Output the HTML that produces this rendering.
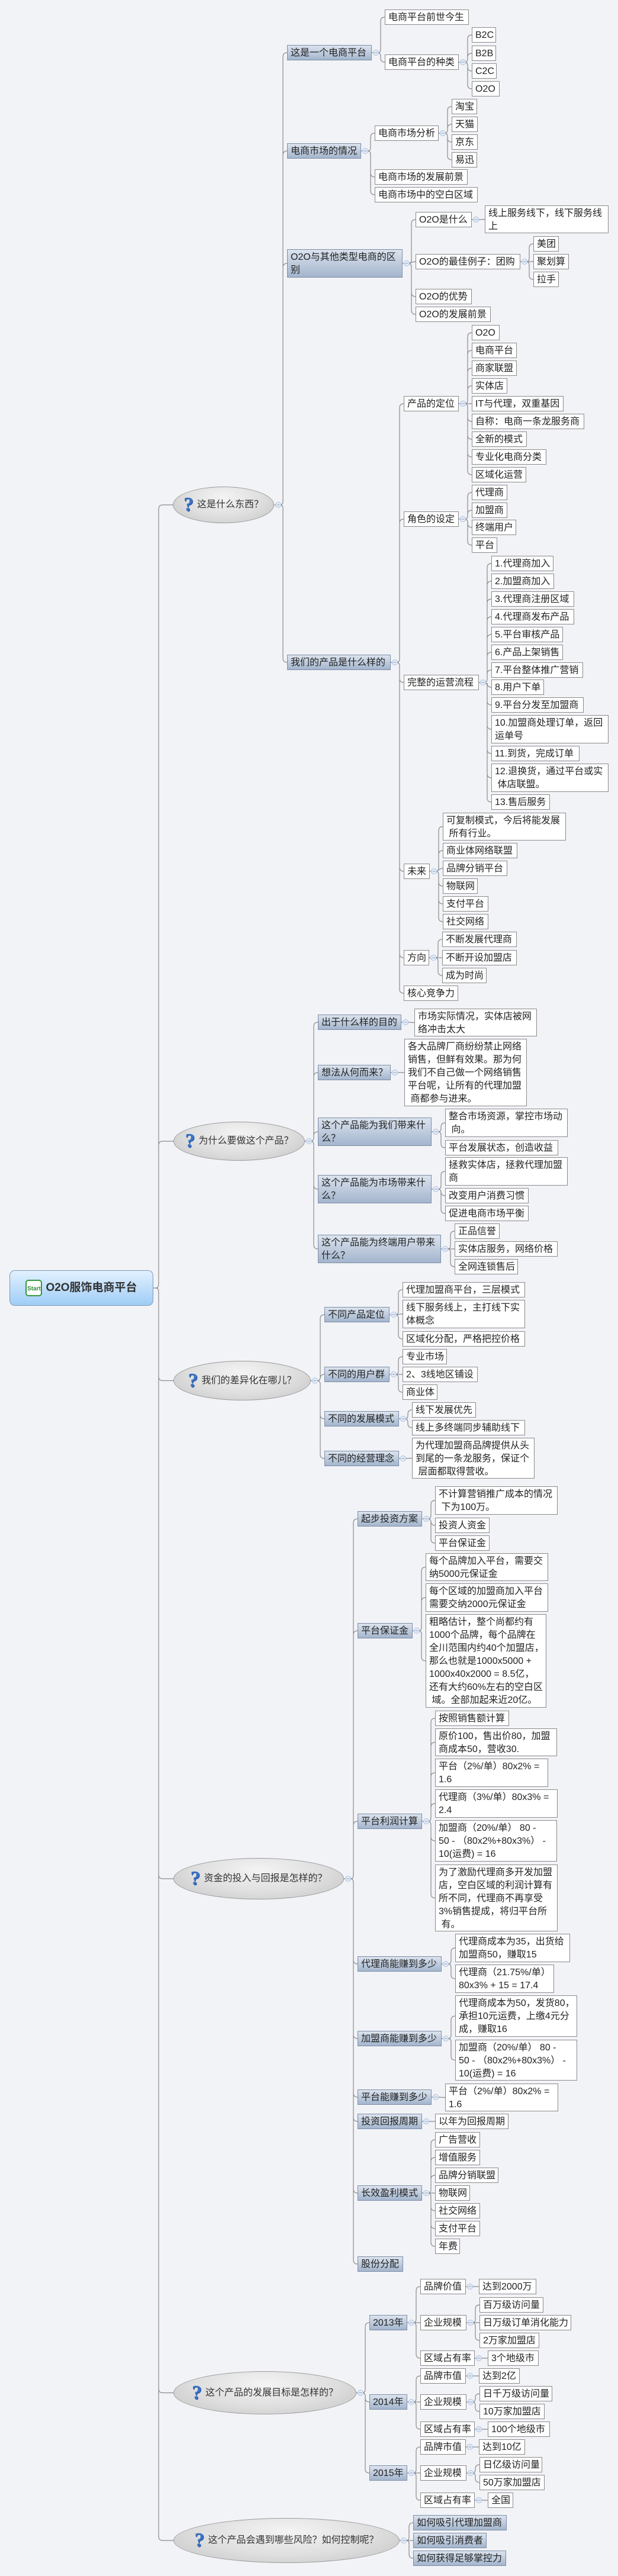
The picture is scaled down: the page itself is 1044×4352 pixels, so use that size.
<!DOCTYPE html>
<html><head><meta charset="utf-8">
<style>
html,body{margin:0;padding:0;}
body{width:1044px;height:4352px;background:#f2f3f7;position:relative;overflow:hidden;font-family:"Liberation Sans","Noto Sans CJK SC",sans-serif;}
.n{position:absolute;box-sizing:border-box;font-size:16px;line-height:22px;padding:2px 5px;white-space:nowrap;color:#222;overflow:hidden;}
.l{background:#fff;border:1px solid #8a8a8a;}
.b{background:linear-gradient(#dbe3ee,#a3b5cd);border:1px solid #7d8ea6;}
.e{background:radial-gradient(ellipse at 50% 30%,#f4f4f4 0%,#dedede 55%,#c4c4c4 100%);border:1px solid #9a9a9a;border-radius:50%;display:flex;align-items:center;justify-content:center;padding:0;color:#333;}
.e i{font-style:normal;font-weight:bold;font-size:34px;color:#3b73c6;margin-right:6px;font-family:"Liberation Serif",serif;text-shadow:1px 1px 0 #1d4f9a;}
#root{left:16px;top:2146px;width:243px;height:60px;border:1px solid #7c98b6;border-radius:9px;background:linear-gradient(#e2f1ff,#9fcdf6);display:flex;align-items:center;justify-content:center;font-weight:bold;font-size:19px;color:#333;padding:0;}
#root span.s{display:inline-block;width:28px;height:28px;border:2px solid #2e9a3a;border-radius:5px;background:#fff;color:#2e8a3a;font-size:10px;line-height:28px;text-align:center;margin-right:6px;box-sizing:border-box;}
svg{position:absolute;left:0;top:0;}
</style></head><body>
<svg id="lines" width="1044" height="4352"></svg>

<div id="root" class="n"><span class="s">Start</span>O2O服饰电商平台</div>

<div id="q1" class="n e c-root" style="left:292px;top:822px;width:171px;height:62px"><i>?</i>这是什么东西？</div>
<div id="q2" class="n e c-root" style="left:293px;top:1895px;width:222px;height:66px"><i>?</i>为什么要做这个产品？</div>
<div id="q3" class="n e c-root" style="left:293px;top:2299px;width:232px;height:67px"><i>?</i>我们的差异化在哪儿？</div>
<div id="q4" class="n e c-root" style="left:293px;top:3139px;width:288px;height:70px"><i>?</i>资金的投入与回报是怎样的？</div>
<div id="q5" class="n e c-root" style="left:293px;top:4006px;width:309px;height:73px"><i>?</i>这个产品的发展目标是怎样的？</div>
<div id="q6" class="n e c-root" style="left:293px;top:4254px;width:382px;height:76px"><i>?</i>这个产品会遇到哪些风险？如何控制呢？</div>

<!-- q1 -->
<div id="A1" class="n b c-q1" style="left:485px;top:76px;width:143px;height:26px">这是一个电商平台</div>
<div id="A2" class="n b c-q1" style="left:485px;top:242px;width:125px;height:26px">电商市场的情况</div>
<div id="A3" class="n b c-q1" style="left:485px;top:421px;width:195px;height:48px">O2O与其他类型电商的区<br>别</div>
<div id="A4" class="n b c-q1" style="left:485px;top:1106px;width:175px;height:26px">我们的产品是什么样的</div>

<div class="n l c-A1" style="left:650px;top:16px;width:142px;height:26px">电商平台前世今生</div>
<div id="A12" class="n l c-A1" style="left:650px;top:92px;width:125px;height:26px">电商平台的种类</div>
<div class="n l c-A12" style="left:797px;top:46px;width:41px;height:26px">B2C</div>
<div class="n l c-A12" style="left:797px;top:77px;width:41px;height:26px">B2B</div>
<div class="n l c-A12" style="left:797px;top:107px;width:42px;height:26px">C2C</div>
<div class="n l c-A12" style="left:797px;top:137px;width:47px;height:26px">O2O</div>

<div id="A21" class="n l c-A2" style="left:633px;top:212px;width:108px;height:26px">电商市场分析</div>
<div class="n l c-A2" style="left:633px;top:286px;width:157px;height:26px">电商市场的发展前景</div>
<div class="n l c-A2" style="left:633px;top:316px;width:174px;height:26px">电商市场中的空白区域</div>
<div class="n l c-A21" style="left:763px;top:167px;width:43px;height:26px">淘宝</div>
<div class="n l c-A21" style="left:763px;top:197px;width:44px;height:26px">天猫</div>
<div class="n l c-A21" style="left:763px;top:227px;width:44px;height:26px">京东</div>
<div class="n l c-A21" style="left:763px;top:257px;width:43px;height:26px">易迅</div>

<div id="A31" class="n l c-A3" style="left:702px;top:358px;width:95px;height:26px">O2O是什么</div>
<div id="A32" class="n l c-A3" style="left:702px;top:429px;width:177px;height:26px">O2O的最佳例子：团购</div>
<div class="n l c-A3" style="left:702px;top:488px;width:95px;height:26px">O2O的优势</div>
<div class="n l c-A3" style="left:702px;top:518px;width:127px;height:26px">O2O的发展前景</div>
<div class="n l c-A31" style="left:819px;top:347px;width:209px;height:47px">线上服务线下，线下服务线<br>上</div>
<div class="n l c-A32" style="left:901px;top:399px;width:43px;height:26px">美团</div>
<div class="n l c-A32" style="left:901px;top:429px;width:60px;height:26px">聚划算</div>
<div class="n l c-A32" style="left:901px;top:459px;width:43px;height:26px">拉手</div>

<div id="A41" class="n l c-A4" style="left:682px;top:669px;width:93px;height:26px">产品的定位</div>
<div id="A42" class="n l c-A4" style="left:682px;top:864px;width:93px;height:26px">角色的设定</div>
<div id="A43" class="n l c-A4" style="left:682px;top:1140px;width:127px;height:26px">完整的运营流程</div>
<div id="A44" class="n l c-A4" style="left:682px;top:1459px;width:44px;height:26px">未来</div>
<div id="A45" class="n l c-A4" style="left:682px;top:1605px;width:43px;height:26px">方向</div>
<div class="n l c-A4" style="left:682px;top:1665px;width:92px;height:26px">核心竞争力</div>

<div class="n l c-A41" style="left:797px;top:549px;width:47px;height:26px">O2O</div>
<div class="n l c-A41" style="left:797px;top:579px;width:76px;height:26px">电商平台</div>
<div class="n l c-A41" style="left:797px;top:609px;width:76px;height:26px">商家联盟</div>
<div class="n l c-A41" style="left:797px;top:639px;width:60px;height:26px">实体店</div>
<div class="n l c-A41" style="left:797px;top:669px;width:155px;height:26px">IT与代理，双重基因</div>
<div class="n l c-A41" style="left:797px;top:699px;width:190px;height:26px">自称：电商一条龙服务商</div>
<div class="n l c-A41" style="left:797px;top:729px;width:93px;height:26px">全新的模式</div>
<div class="n l c-A41" style="left:797px;top:759px;width:126px;height:26px">专业化电商分类</div>
<div class="n l c-A41" style="left:797px;top:789px;width:92px;height:26px">区域化运营</div>

<div class="n l c-A42" style="left:797px;top:819px;width:60px;height:26px">代理商</div>
<div class="n l c-A42" style="left:797px;top:849px;width:60px;height:26px">加盟商</div>
<div class="n l c-A42" style="left:797px;top:878px;width:75px;height:26px">终端用户</div>
<div class="n l c-A42" style="left:797px;top:908px;width:43px;height:26px">平台</div>

<div class="n l c-A43" style="left:830px;top:939px;width:105px;height:26px">1.代理商加入</div>
<div class="n l c-A43" style="left:830px;top:969px;width:106px;height:26px">2.加盟商加入</div>
<div class="n l c-A43" style="left:830px;top:999px;width:140px;height:26px">3.代理商注册区域</div>
<div class="n l c-A43" style="left:830px;top:1029px;width:140px;height:26px">4.代理商发布产品</div>
<div class="n l c-A43" style="left:830px;top:1059px;width:121px;height:26px">5.平台审核产品</div>
<div class="n l c-A43" style="left:830px;top:1089px;width:121px;height:26px">6.产品上架销售</div>
<div class="n l c-A43" style="left:830px;top:1119px;width:155px;height:26px">7.平台整体推广营销</div>
<div class="n l c-A43" style="left:830px;top:1148px;width:89px;height:26px">8.用户下单</div>
<div class="n l c-A43" style="left:830px;top:1178px;width:156px;height:26px">9.平台分发至加盟商</div>
<div class="n l c-A43" style="left:830px;top:1208px;width:198px;height:48px">10.加盟商处理订单，返回<br>运单号</div>
<div class="n l c-A43" style="left:830px;top:1260px;width:149px;height:26px">11.到货，完成订单</div>
<div class="n l c-A43" style="left:830px;top:1290px;width:198px;height:48px">12.退换货，通过平台或实<br>&nbsp;体店联盟。</div>
<div class="n l c-A43" style="left:830px;top:1342px;width:99px;height:26px">13.售后服务</div>

<div class="n l c-A44" style="left:748px;top:1373px;width:208px;height:47px">可复制模式，今后将能发展<br>&nbsp;所有行业。</div>
<div class="n l c-A44" style="left:748px;top:1424px;width:126px;height:26px">商业体网络联盟</div>
<div class="n l c-A44" style="left:748px;top:1454px;width:109px;height:26px">品牌分销平台</div>
<div class="n l c-A44" style="left:748px;top:1484px;width:59px;height:26px">物联网</div>
<div class="n l c-A44" style="left:748px;top:1514px;width:77px;height:26px">支付平台</div>
<div class="n l c-A44" style="left:748px;top:1544px;width:77px;height:26px">社交网络</div>

<div class="n l c-A45" style="left:747px;top:1574px;width:126px;height:26px">不断发展代理商</div>
<div class="n l c-A45" style="left:747px;top:1605px;width:126px;height:26px">不断开设加盟店</div>
<div class="n l c-A45" style="left:747px;top:1635px;width:75px;height:26px">成为时尚</div>

<!-- q2 -->
<div id="B1" class="n b c-q2" style="left:537px;top:1714px;width:141px;height:26px">出于什么样的目的</div>
<div id="B2" class="n b c-q2" style="left:537px;top:1799px;width:123px;height:26px">想法从何而来？</div>
<div id="B3" class="n b c-q2" style="left:537px;top:1888px;width:192px;height:48px">这个产品能为我们带来什<br>么？</div>
<div id="B4" class="n b c-q2" style="left:537px;top:1985px;width:192px;height:48px">这个产品能为市场带来什<br>么？</div>
<div id="B5" class="n b c-q2" style="left:537px;top:2086px;width:208px;height:48px">这个产品能为终端用户带来<br>什么？</div>
<div class="n l c-B1" style="left:700px;top:1704px;width:207px;height:47px">市场实际情况，实体店被网<br>络冲击太大</div>
<div class="n l c-B2" style="left:683px;top:1755px;width:207px;height:114px">各大品牌厂商纷纷禁止网络<br>销售，但鲜有效果。那为何<br>我们不自己做一个网络销售<br>平台呢，让所有的代理加盟<br>&nbsp;商都参与进来。</div>
<div class="n l c-B3" style="left:752px;top:1873px;width:207px;height:48px">整合市场资源，掌控市场动<br>&nbsp;向。</div>
<div class="n l c-B3" style="left:752px;top:1926px;width:191px;height:26px">平台发展状态，创造收益</div>
<div class="n l c-B4" style="left:752px;top:1955px;width:207px;height:48px">拯救实体店，拯救代理加盟<br>商</div>
<div class="n l c-B4" style="left:752px;top:2007px;width:141px;height:26px">改变用户消费习惯</div>
<div class="n l c-B4" style="left:752px;top:2037px;width:141px;height:26px">促进电商市场平衡</div>
<div class="n l c-B5" style="left:768px;top:2067px;width:76px;height:26px">正品信誉</div>
<div class="n l c-B5" style="left:768px;top:2097px;width:174px;height:26px">实体店服务，网络价格</div>
<div class="n l c-B5" style="left:768px;top:2127px;width:107px;height:26px">全网连锁售后</div>

<!-- q3 -->
<div id="C1" class="n b c-q3" style="left:548px;top:2208px;width:110px;height:26px">不同产品定位</div>
<div id="C2" class="n b c-q3" style="left:548px;top:2309px;width:110px;height:26px">不同的用户群</div>
<div id="C3" class="n b c-q3" style="left:548px;top:2384px;width:126px;height:26px">不同的发展模式</div>
<div id="C4" class="n b c-q3" style="left:548px;top:2451px;width:126px;height:26px">不同的经营理念</div>
<div class="n l c-C1" style="left:680px;top:2166px;width:207px;height:26px">代理加盟商平台，三层模式</div>
<div class="n l c-C1" style="left:680px;top:2196px;width:207px;height:48px">线下服务线上，主打线下实<br>体概念</div>
<div class="n l c-C1" style="left:680px;top:2249px;width:207px;height:26px">区域化分配，严格把控价格</div>
<div class="n l c-C2" style="left:680px;top:2279px;width:75px;height:26px">专业市场</div>
<div class="n l c-C2" style="left:680px;top:2309px;width:127px;height:26px">2、3线地区铺设</div>
<div class="n l c-C2" style="left:680px;top:2339px;width:59px;height:26px">商业体</div>
<div class="n l c-C3" style="left:696px;top:2369px;width:108px;height:26px">线下发展优先</div>
<div class="n l c-C3" style="left:696px;top:2399px;width:191px;height:26px">线上多终端同步辅助线下</div>
<div class="n l c-C4" style="left:696px;top:2429px;width:207px;height:69px">为代理加盟商品牌提供从头<br>到尾的一条龙服务，保证个<br>&nbsp;层面都取得营收。</div>

<!-- q4 -->
<div id="D1" class="n b c-q4" style="left:604px;top:2553px;width:109px;height:26px">起步投资方案</div>
<div id="D2" class="n b c-q4" style="left:604px;top:2742px;width:93px;height:26px">平台保证金</div>
<div id="D3" class="n b c-q4" style="left:604px;top:3064px;width:109px;height:26px">平台利润计算</div>
<div id="D4" class="n b c-q4" style="left:604px;top:3305px;width:142px;height:26px">代理商能赚到多少</div>
<div id="D5" class="n b c-q4" style="left:604px;top:3431px;width:142px;height:26px">加盟商能赚到多少</div>
<div id="D6" class="n b c-q4" style="left:604px;top:3530px;width:125px;height:26px">平台能赚到多少</div>
<div id="D7" class="n b c-q4" style="left:604px;top:3571px;width:109px;height:26px">投资回报周期</div>
<div id="D8" class="n b c-q4" style="left:604px;top:3692px;width:109px;height:26px">长效盈利模式</div>
<div class="n b c-q4" style="left:604px;top:3812px;width:77px;height:26px">股份分配</div>

<div class="n l c-D1" style="left:735px;top:2511px;width:207px;height:48px">不计算营销推广成本的情况<br>&nbsp;下为100万。</div>
<div class="n l c-D1" style="left:735px;top:2564px;width:92px;height:26px">投资人资金</div>
<div class="n l c-D1" style="left:735px;top:2594px;width:92px;height:26px">平台保证金</div>

<div class="n l c-D2" style="left:719px;top:2624px;width:207px;height:47px">每个品牌加入平台，需要交<br>纳5000元保证金</div>
<div class="n l c-D2" style="left:719px;top:2675px;width:207px;height:48px">每个区域的加盟商加入平台<br>需要交纳2000元保证金</div>
<div class="n l c-D2" style="left:719px;top:2727px;width:204px;height:158px">粗略估计，整个尚都约有<br>1000个品牌，每个品牌在<br>全川范围内约40个加盟店，<br>那么也就是1000x5000 +<br>1000x40x2000 = 8.5亿，<br>还有大约60%左右的空白区<br>&nbsp;域。全部加起来近20亿。</div>

<div class="n l c-D3" style="left:735px;top:2890px;width:125px;height:26px">按照销售额计算</div>
<div class="n l c-D3" style="left:735px;top:2920px;width:206px;height:47px">原价100，售出价80，加盟<br>商成本50，营收30.</div>
<div class="n l c-D3" style="left:735px;top:2971px;width:191px;height:48px">平台（2%/单）80x2% =<br>1.6</div>
<div class="n l c-D3" style="left:735px;top:3023px;width:207px;height:48px">代理商（3%/单）80x3% =<br>2.4</div>
<div class="n l c-D3" style="left:735px;top:3075px;width:206px;height:70px">加盟商（20%/单） 80 -<br>50 - （80x2%+80x3%） -<br>10(运费) = 16</div>
<div class="n l c-D3" style="left:735px;top:3150px;width:207px;height:113px">为了激励代理商多开发加盟<br>店，空白区域的利润计算有<br>所不同，代理商不再享受<br>3%销售提成，将归平台所<br>&nbsp;有。</div>

<div class="n l c-D4" style="left:769px;top:3267px;width:194px;height:48px">代理商成本为35，出货给<br>加盟商50，赚取15</div>
<div class="n l c-D4" style="left:769px;top:3319px;width:167px;height:48px">代理商（21.75%/单）<br>80x3% + 15 = 17.4</div>
<div class="n l c-D5" style="left:769px;top:3371px;width:206px;height:70px">代理商成本为50，发货80，<br>承担10元运费，上缴4元分<br>成，赚取16</div>
<div class="n l c-D5" style="left:769px;top:3446px;width:206px;height:69px">加盟商（20%/单） 80 -<br>50 - （80x2%+80x3%） -<br>10(运费) = 16</div>
<div class="n l c-D6" style="left:752px;top:3520px;width:191px;height:47px">平台（2%/单）80x2% =<br>1.6</div>
<div class="n l c-D7" style="left:735px;top:3571px;width:124px;height:26px">以年为回报周期</div>
<div class="n l c-D8" style="left:735px;top:3602px;width:76px;height:26px">广告营收</div>
<div class="n l c-D8" style="left:735px;top:3632px;width:76px;height:26px">增值服务</div>
<div class="n l c-D8" style="left:735px;top:3662px;width:107px;height:26px">品牌分销联盟</div>
<div class="n l c-D8" style="left:735px;top:3692px;width:59px;height:26px">物联网</div>
<div class="n l c-D8" style="left:735px;top:3722px;width:76px;height:26px">社交网络</div>
<div class="n l c-D8" style="left:735px;top:3752px;width:76px;height:26px">支付平台</div>
<div class="n l c-D8" style="left:735px;top:3782px;width:42px;height:26px">年费</div>

<!-- q5 -->
<div id="Y1" class="n b c-q5" style="left:624px;top:3911px;width:64px;height:26px">2013年</div>
<div id="Y2" class="n b c-q5" style="left:624px;top:4045px;width:64px;height:26px">2014年</div>
<div id="Y3" class="n b c-q5" style="left:624px;top:4165px;width:64px;height:26px">2015年</div>

<div id="Y11" class="n l c-Y1" style="left:710px;top:3850px;width:77px;height:26px">品牌价值</div>
<div id="Y12" class="n l c-Y1" style="left:710px;top:3911px;width:78px;height:26px">企业规模</div>
<div id="Y13" class="n l c-Y1" style="left:710px;top:3971px;width:92px;height:26px">区域占有率</div>
<div class="n l c-Y11" style="left:809px;top:3850px;width:97px;height:26px">达到2000万</div>
<div class="n l c-Y12" style="left:810px;top:3881px;width:108px;height:26px">百万级访问量</div>
<div class="n l c-Y12" style="left:810px;top:3911px;width:155px;height:26px">日万级订单消化能力</div>
<div class="n l c-Y12" style="left:810px;top:3941px;width:101px;height:26px">2万家加盟店</div>
<div class="n l c-Y13" style="left:824px;top:3971px;width:86px;height:26px">3个地级市</div>

<div id="Y21" class="n l c-Y2" style="left:710px;top:4001px;width:77px;height:26px">品牌市值</div>
<div id="Y22" class="n l c-Y2" style="left:710px;top:4045px;width:78px;height:26px">企业规模</div>
<div id="Y23" class="n l c-Y2" style="left:710px;top:4091px;width:92px;height:26px">区域占有率</div>
<div class="n l c-Y21" style="left:809px;top:4001px;width:69px;height:26px">达到2亿</div>
<div class="n l c-Y22" style="left:810px;top:4031px;width:123px;height:26px">日千万级访问量</div>
<div class="n l c-Y22" style="left:810px;top:4061px;width:110px;height:26px">10万家加盟店</div>
<div class="n l c-Y23" style="left:824px;top:4091px;width:105px;height:26px">100个地级市</div>

<div id="Y31" class="n l c-Y3" style="left:710px;top:4121px;width:77px;height:26px">品牌市值</div>
<div id="Y32" class="n l c-Y3" style="left:710px;top:4165px;width:78px;height:26px">企业规模</div>
<div id="Y33" class="n l c-Y3" style="left:710px;top:4211px;width:92px;height:26px">区域占有率</div>
<div class="n l c-Y31" style="left:809px;top:4121px;width:78px;height:26px">达到10亿</div>
<div class="n l c-Y32" style="left:810px;top:4151px;width:106px;height:26px">日亿级访问量</div>
<div class="n l c-Y32" style="left:810px;top:4181px;width:110px;height:26px">50万家加盟店</div>
<div class="n l c-Y33" style="left:824px;top:4211px;width:43px;height:26px">全国</div>

<!-- q6 -->
<div class="n b c-q6" style="left:698px;top:4249px;width:158px;height:26px">如何吸引代理加盟商</div>
<div class="n b c-q6" style="left:698px;top:4279px;width:124px;height:26px">如何吸引消费者</div>
<div class="n b c-q6" style="left:698px;top:4309px;width:157px;height:26px">如何获得足够掌控力</div>

<script>
(function(){
var svg=document.getElementById('lines');var NS='http://www.w3.org/2000/svg';
function box(el){return {l:el.offsetLeft,t:el.offsetTop,r:el.offsetLeft+el.offsetWidth,cy:el.offsetTop+el.offsetHeight/2};}
var groups={};
var all=document.querySelectorAll('.n');
for(var i=0;i<all.length;i++){var cl=all[i].className.split(' ');for(var j=0;j<cl.length;j++){if(cl[j].indexOf('c-')===0){var p=cl[j].slice(2);(groups[p]=groups[p]||[]).push(all[i]);}}}
var d='',circles=[];
for(var p in groups){var pe=document.getElementById(p);if(!pe)continue;var pb=box(pe);var ch=groups[p];
 var minL=1e9;for(var k=0;k<ch.length;k++){minL=Math.min(minL,ch[k].offsetLeft);}
 var sx=(p==='root')?268:minL-7;var py=pb.cy;
 if(p!=='root')circles.push([pb.r+7,py]);
 d+='M'+pb.r+' '+py+'L'+(sx-5)+' '+py;
 for(var k=0;k<ch.length;k++){var cb=box(ch[k]);var cy=cb.cy;var dy=cy-py;
  if(Math.abs(dy)<7){d+='M'+(sx-5)+' '+py+'C'+sx+' '+py+' '+sx+' '+cy+' '+cb.l+' '+cy;}
  else{var s=dy>0?1:-1;d+='M'+(sx-5)+' '+py+'Q'+sx+' '+py+' '+sx+' '+(py+s*6)+'L'+sx+' '+(cy-s*7)+'Q'+sx+' '+cy+' '+(sx+7)+' '+cy+'L'+cb.l+' '+cy;}
 }
}
var path=document.createElementNS(NS,'path');path.setAttribute('d',d);path.setAttribute('fill','none');path.setAttribute('stroke','#8c8c8c');path.setAttribute('stroke-width','1.2');svg.appendChild(path);
for(var c=0;c<circles.length;c++){var ci=document.createElementNS(NS,'circle');ci.setAttribute('cx',circles[c][0]);ci.setAttribute('cy',circles[c][1]);ci.setAttribute('r','4.5');ci.setAttribute('fill','#e6edf8');ci.setAttribute('stroke','#a9bfdf');svg.appendChild(ci);
 var ln=document.createElementNS(NS,'line');ln.setAttribute('x1',circles[c][0]-2.5);ln.setAttribute('x2',circles[c][0]+2.5);ln.setAttribute('y1',circles[c][1]);ln.setAttribute('y2',circles[c][1]);ln.setAttribute('stroke','#7f9cc8');svg.appendChild(ln);}
})();
</script>
</body></html>
